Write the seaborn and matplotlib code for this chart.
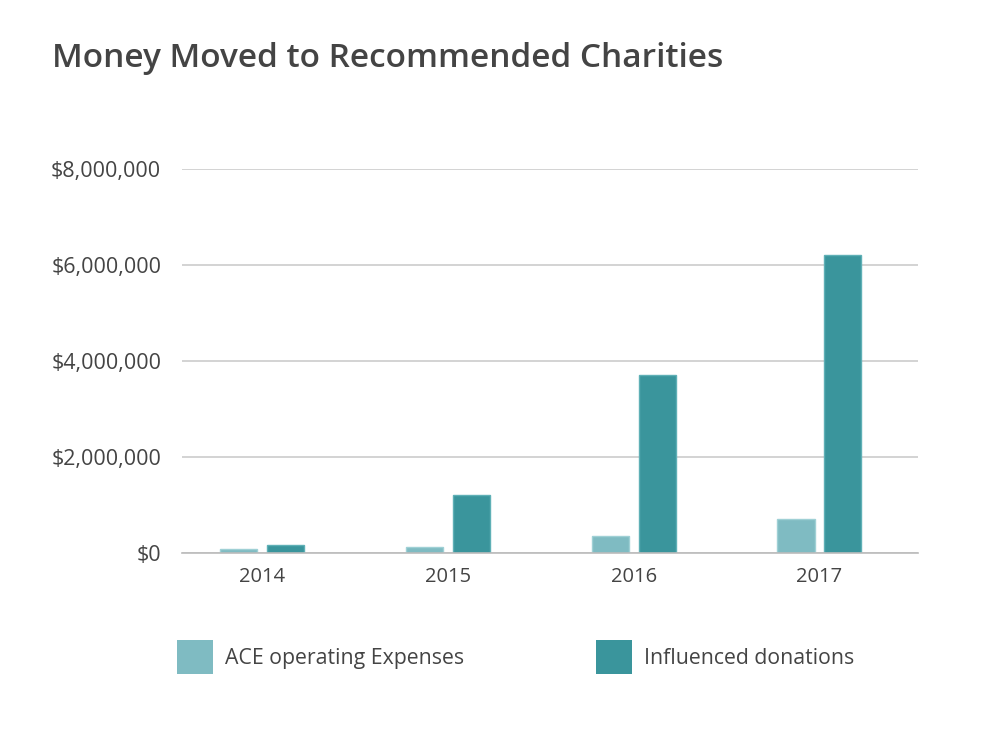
import pandas as pd
import matplotlib
matplotlib.use("Agg")
import matplotlib.pyplot as plt
import matplotlib.ticker as mticker
import seaborn as sns

# data
years = ["2014", "2015", "2016", "2017"]
ace_expenses = [80000, 125000, 360000, 715000]
influenced = [175000, 1210000, 3700000, 6200000]
series_names = ["ACE operating Expenses", "Influenced donations"]

df = pd.DataFrame({
    "year": years * 2,
    "amount": ace_expenses + influenced,
    "series": [series_names[0]] * 4 + [series_names[1]] * 4,
})

sns.set_theme(style="white")
plt.rcParams["font.family"] = ["Open Sans", "DejaVu Sans"]
text_color = "#444444"

fig = plt.figure(figsize=(10, 7.5), dpi=100)
ax = fig.add_axes([0.182, 0.2627, 0.736, 0.512])

palette = {series_names[0]: "#7fbbc2", series_names[1]: "#3a959c"}
sns.barplot(data=df, x="year", y="amount", hue="series", palette=palette,
            width=0.505, gap=0.21, saturation=1, ax=ax, legend=False)

# faint lighter outline on bars, like the original
for patch, edge in zip(ax.patches, ["#9fd0d5"] * 4 + ["#5fb0b6"] * 4):
    patch.set_edgecolor(edge)
    patch.set_linewidth(1)

ax.set_ylim(0, 8000000)
ax.set_xlim(-0.43, 3.53)
ax.yaxis.set_major_locator(mticker.MultipleLocator(2000000))
ax.yaxis.set_major_formatter(mticker.FuncFormatter(lambda v, p: "${:,.0f}".format(v)))
ax.grid(axis="y", color="#cccccc", linewidth=1.2)
ax.set_axisbelow(True)
for s in ["top", "right", "left"]:
    ax.spines[s].set_visible(False)
ax.spines["bottom"].set_color("#bbbbbb")
ax.spines["bottom"].set_linewidth(1.2)
ax.tick_params(axis="y", length=0, pad=15, labelsize=15.5, labelcolor=text_color)
ax.tick_params(axis="x", length=0, pad=10, labelsize=14.5, labelcolor=text_color)
ax.set_xlabel("")
ax.set_ylabel("")

fig.text(0.052, 0.922, "Money Moved to Recommended Charities", fontsize=24,
         fontweight=600, color=text_color, va="center", ha="left")

handles = [plt.Rectangle((0, 0), 1, 1, facecolor=palette[n], edgecolor="none") for n in series_names]
leg = fig.legend(handles, series_names, loc="center left", bbox_to_anchor=(0.177, 0.124),
                 ncol=2, frameon=False, fontsize=15.3, handlelength=1.69, handleheight=2.08,
                 handletextpad=0.56, columnspacing=6.2, borderpad=0, borderaxespad=0)
for t in leg.get_texts():
    t.set_color(text_color)

fig.savefig("out.png", dpi=100, facecolor="white")
